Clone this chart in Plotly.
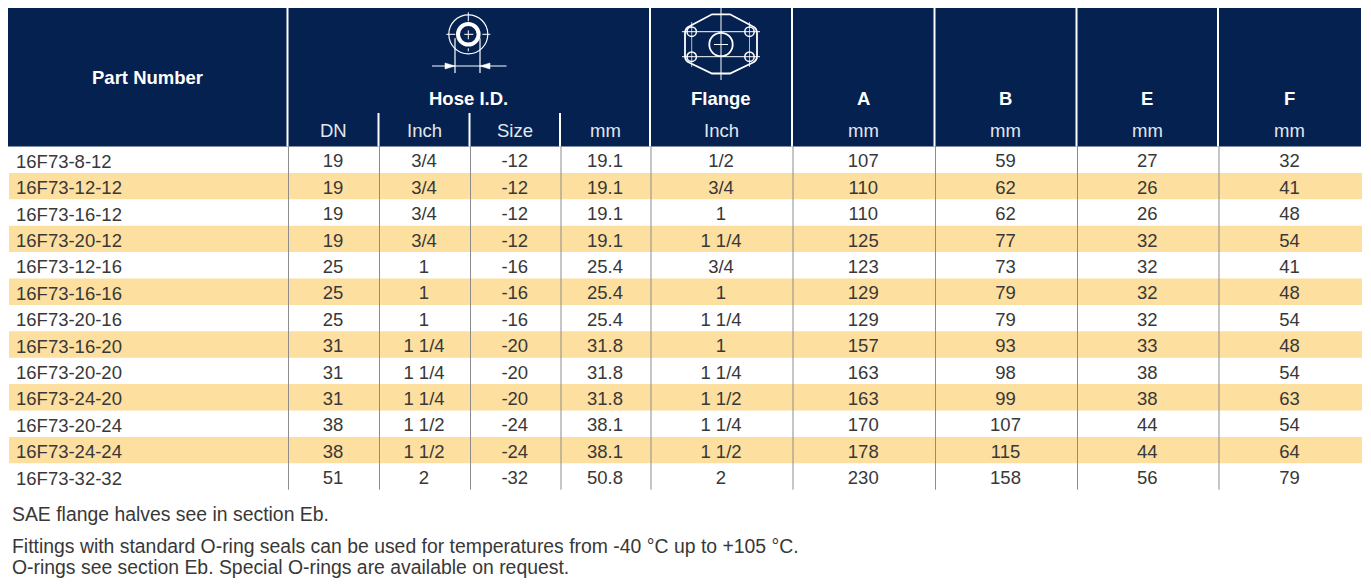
import plotly.graph_objects as go

# ---------------- data ----------------
part_numbers = ["16F73-8-12", "16F73-12-12", "16F73-16-12", "16F73-20-12", "16F73-12-16",
                "16F73-16-16", "16F73-20-16", "16F73-16-20", "16F73-20-20", "16F73-24-20",
                "16F73-20-24", "16F73-24-24", "16F73-32-32"]
hose_dn = [19, 19, 19, 19, 25, 25, 25, 31, 31, 31, 38, 38, 51]
hose_inch = ["3/4", "3/4", "3/4", "3/4", "1", "1", "1", "1 1/4", "1 1/4", "1 1/4", "1 1/2", "1 1/2", "2"]
hose_size = ["-12", "-12", "-12", "-12", "-16", "-16", "-16", "-20", "-20", "-20", "-24", "-24", "-32"]
hose_mm = ["19.1", "19.1", "19.1", "19.1", "25.4", "25.4", "25.4", "31.8", "31.8", "31.8", "38.1", "38.1", "50.8"]
flange_inch = ["1/2", "3/4", "1", "1 1/4", "3/4", "1", "1 1/4", "1", "1 1/4", "1 1/2", "1 1/4", "1 1/2", "2"]
dim_a = [107, 110, 110, 125, 123, 129, 129, 157, 163, 163, 170, 178, 230]
dim_b = [59, 62, 62, 77, 73, 79, 79, 93, 98, 99, 107, 115, 158]
dim_e = [27, 26, 26, 32, 32, 32, 32, 33, 38, 38, 44, 44, 56]
dim_f = [32, 41, 48, 54, 41, 48, 54, 48, 54, 63, 54, 64, 79]

group_labels = ["Part Number", "Hose I.D.", "Flange", "A", "B", "E", "F"]
sub_labels = ["DN", "Inch", "Size", "mm", "Inch", "mm", "mm", "mm", "mm"]
notes = ["SAE flange halves see in section Eb.",
         "Fittings with standard O-ring seals can be used for temperatures from -40 °C up to +105 °C.",
         "O-rings see section Eb. Special O-rings are available on request."]

# ---------------- layout geometry ----------------
W, H = 1371, 585
OFF = 8  # page body margin
NAVY = "#05214f"
STRIPE = "#fddfa0"
TXT = "#383838"
FONT = "Liberation Sans"

left, right = 7, 1361
head_top, sub_top, head_bot = 7, 113, 146.5
row_h = 26.4
col_edges = [left, 287.5, 378.5, 469.5, 560, 650, 792, 934.5, 1076.5, 1218, right]
centers = [(col_edges[i] + col_edges[i + 1]) / 2 for i in range(len(col_edges) - 1)]
n = len(part_numbers)
data_bot = head_bot + n * row_h

shapes = []
shapes.append(dict(type="rect", x0=OFF, x1=right, y0=head_top, y1=head_bot,
                   fillcolor=NAVY, line=dict(width=0), layer="below"))
for i in range(n):
    if i % 2 == 1:
        y0 = head_bot + i * row_h
        shapes.append(dict(type="rect", x0=OFF + 1, x1=right + 1, y0=y0, y1=y0 + row_h,
                           fillcolor=STRIPE, line=dict(width=0), layer="below"))
for xe in [col_edges[1], col_edges[5], col_edges[6], col_edges[7], col_edges[8], col_edges[9]]:
    shapes.append(dict(type="line", x0=xe, x1=xe, y0=head_top, y1=head_bot,
                       line=dict(color="white", width=2)))
for xe in [col_edges[2], col_edges[3], col_edges[4]]:
    shapes.append(dict(type="line", x0=xe, x1=xe, y0=sub_top, y1=head_bot,
                       line=dict(color="white", width=2)))
for xe in col_edges[1:-1]:
    shapes.append(dict(type="line", x0=xe + 1, x1=xe + 1, y0=head_bot, y1=data_bot,
                       line=dict(color="#8c8c8c", width=1)))

# ----- hose icon -----
W_ = "white"
hx, hy = 468.3, 34.3
shapes.append(dict(type="circle", x0=hx - 19.5, x1=hx + 19.5, y0=hy - 19.5, y1=hy + 19.5,
                   line=dict(color=W_, width=1.2)))
shapes.append(dict(type="circle", x0=hx - 10.3, x1=hx + 10.3, y0=hy - 10.3, y1=hy + 10.3,
                   line=dict(color=W_, width=4)))
shapes.append(dict(type="line", x0=hx - 22, x1=hx + 22, y0=hy, y1=hy, line=dict(color=W_, width=1, dash="dash")))
shapes.append(dict(type="line", x0=hx, x1=hx, y0=hy - 22, y1=hy + 17, line=dict(color=W_, width=1, dash="dash")))
for dx in [455, 480]:
    shapes.append(dict(type="line", x0=dx, x1=dx, y0=hy + 4, y1=73, line=dict(color=W_, width=1.2)))
shapes.append(dict(type="line", x0=432, x1=506.5, y0=66, y1=66, line=dict(color=W_, width=1.2)))
shapes.append(dict(type="path", path="M 445 63 L 455 66 L 445 69 Z", fillcolor=W_, line=dict(color=W_, width=0.5)))
shapes.append(dict(type="path", path="M 490 63 L 480 66 L 490 69 Z", fillcolor=W_, line=dict(color=W_, width=0.5)))

# ----- flange icon -----
fx, fy = 721, 44.5
shapes.append(dict(type="path",
                   path="M 712 14.3 L 730 14.3 L 752 26 Q 757 28 757 33 L 757 56 Q 757 61 752 63 "
                        "L 730 73.5 L 712 73.5 L 690 63 Q 685 61 685 56 L 685 33 Q 685 28 690 26 Z",
                   line=dict(color=W_, width=1.8)))
for hx2 in [691.7, 749.5]:
    for hy2 in [31.7, 56.7]:
        shapes.append(dict(type="circle", x0=hx2 - 4.7, x1=hx2 + 4.7, y0=hy2 - 4.7, y1=hy2 + 4.7,
                           line=dict(color=W_, width=1.5)))
    shapes.append(dict(type="line", x0=hx2, x1=hx2, y0=22, y1=67, line=dict(color=W_, width=0.7)))
for hy2 in [31.7, 56.7]:
    shapes.append(dict(type="line", x0=682, x1=760, y0=hy2, y1=hy2, line=dict(color=W_, width=1)))
shapes.append(dict(type="circle", x0=fx - 11.7, x1=fx + 11.7, y0=fy - 11.7, y1=fy + 11.7,
                   line=dict(color=W_, width=1.8)))
shapes.append(dict(type="line", x0=fx, x1=fx, y0=8, y1=80, line=dict(color=W_, width=1)))
shapes.append(dict(type="line", x0=fx - 7, x1=fx + 7, y0=fy, y1=fy, line=dict(color=W_, width=1)))

# ---------------- text ----------------
annotations = []
grp_x = [(col_edges[0] + col_edges[1]) / 2, (col_edges[1] + col_edges[5]) / 2, centers[5],
         centers[6], centers[7], centers[8], centers[9]]
grp_y = [77, 98, 98, 98, 98, 98, 98]
for lab, gx, gy in zip(group_labels, grp_x, grp_y):
    annotations.append(dict(x=gx, y=gy, text="<b>" + lab + "</b>", showarrow=False,
                            xanchor="center", yanchor="middle",
                            font=dict(family=FONT, size=18.5, color="white")))
for lab, cx in zip(sub_labels, centers[1:]):
    annotations.append(dict(x=cx, y=130, text=lab, showarrow=False, xanchor="center", yanchor="middle",
                            font=dict(family=FONT, size=18.5, color="#e3e7ee")))
row_mid = [head_bot + row_h * (i + 0.5) for i in range(n)]
for pn, ry in zip(part_numbers, row_mid):
    annotations.append(dict(x=14, y=ry + 1.5, text=pn, showarrow=False, xanchor="left", yanchor="middle",
                            font=dict(family=FONT, size=18.5, color=TXT)))
for note, ny in zip(notes, [513.5, 545.5, 566.5]):
    annotations.append(dict(x=9.5, y=ny, text=note, showarrow=False, xanchor="left", yanchor="middle",
                            font=dict(family=FONT, size=19.4, color=TXT)))

fig = go.Figure()
columns = [hose_dn, hose_inch, hose_size, hose_mm, flange_inch, dim_a, dim_b, dim_e, dim_f]
for col, cx in zip(columns, centers[1:]):
    fig.add_trace(go.Scatter(x=[cx] * n, y=[r + 3 for r in row_mid], mode="text",
                             text=[str(v) for v in col], textposition="middle center",
                             textfont=dict(family=FONT, size=18.5, color=TXT),
                             hoverinfo="skip", showlegend=False))

fig.update_layout(
    width=W - OFF, height=H - OFF, margin=dict(l=0, r=0, t=0, b=0),
    paper_bgcolor="white", plot_bgcolor="white",
    xaxis=dict(range=[OFF, W], visible=False, fixedrange=True),
    yaxis=dict(range=[H, OFF], visible=False, fixedrange=True),
    shapes=shapes, annotations=annotations, showlegend=False,
)
fig.write_html("out.html")
